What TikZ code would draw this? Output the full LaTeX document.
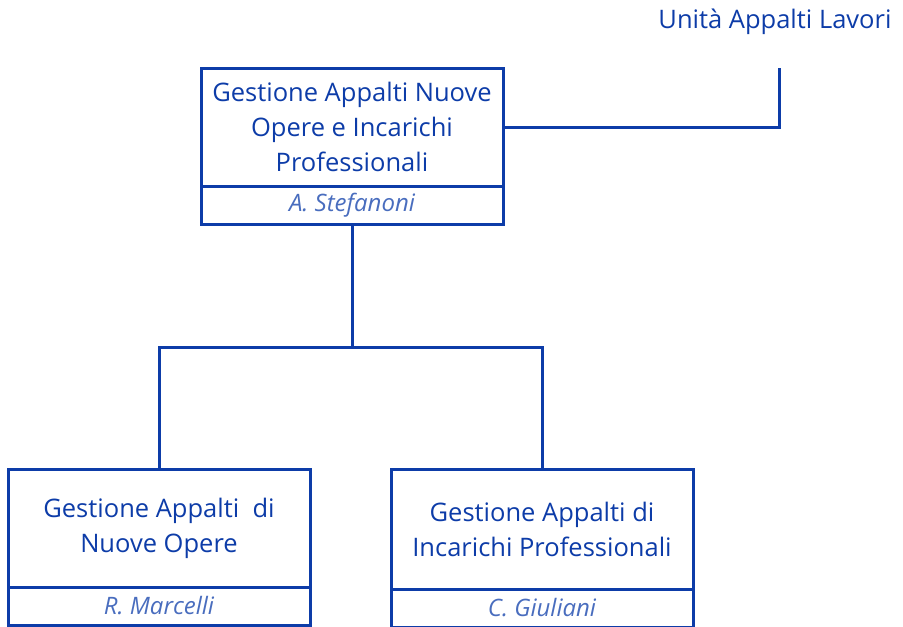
\documentclass[tikz,border=0pt]{standalone}
\usepackage{fontspec}
\setmainfont{Open Sans}
\usetikzlibrary{positioning}
\definecolor{ublue}{HTML}{0D3CA8}

\begin{document}
\begin{tikzpicture}[x=1pt, y=-1pt,
    every node/.style={font=\fontsize{25.5}{35}\selectfont, text=ublue},
    unitbox/.style={draw=ublue, line width=3pt, outer sep=0pt, minimum width=302pt, minimum height=118pt, align=center, inner sep=0pt},
    namebox/.style={draw=ublue, line width=3pt, outer sep=0pt, minimum width=302pt, minimum height=38pt, inner sep=0pt, font=\fontsize{24}{28}\selectfont\itshape, text=ublue!75},
    link/.style={draw=ublue, line width=3pt}]
  \useasboundingbox (0,0) rectangle (903,627);
  % top unit
  \node[anchor=base east] (lavori) at (895,28) {Unità Appalti Lavori};
  \node[unitbox] (gestione) at (352,127) {Gestione Appalti Nuove\\Opere e Incarichi\\Professionali};
  \node[namebox, below=0pt of gestione] (stefanoni) {A. Stefanoni};
  % sub units
  \node[unitbox] (nuove) at (159,528) {Gestione Appalti\ \ di\\Nuove Opere};
  \node[namebox, below=0pt of nuove] (marcelli) {R. Marcelli};
  \node[unitbox, minimum height=120pt] (incarichi) at (542,529) {Gestione Appalti di\\Incarichi Professionali};
  \node[namebox, below=0pt of incarichi] (giuliani) {C. Giuliani};
  % links
  \coordinate (lavorifoot) at (779,68);
  \coordinate (fork) at (352,347);
  \draw[link] (gestione.east) -| (lavorifoot);
  \draw[link] (stefanoni.south) -- (fork);
  \draw[link] (nuove.north) |- (fork) -| (incarichi.north);
\end{tikzpicture}
\end{document}
